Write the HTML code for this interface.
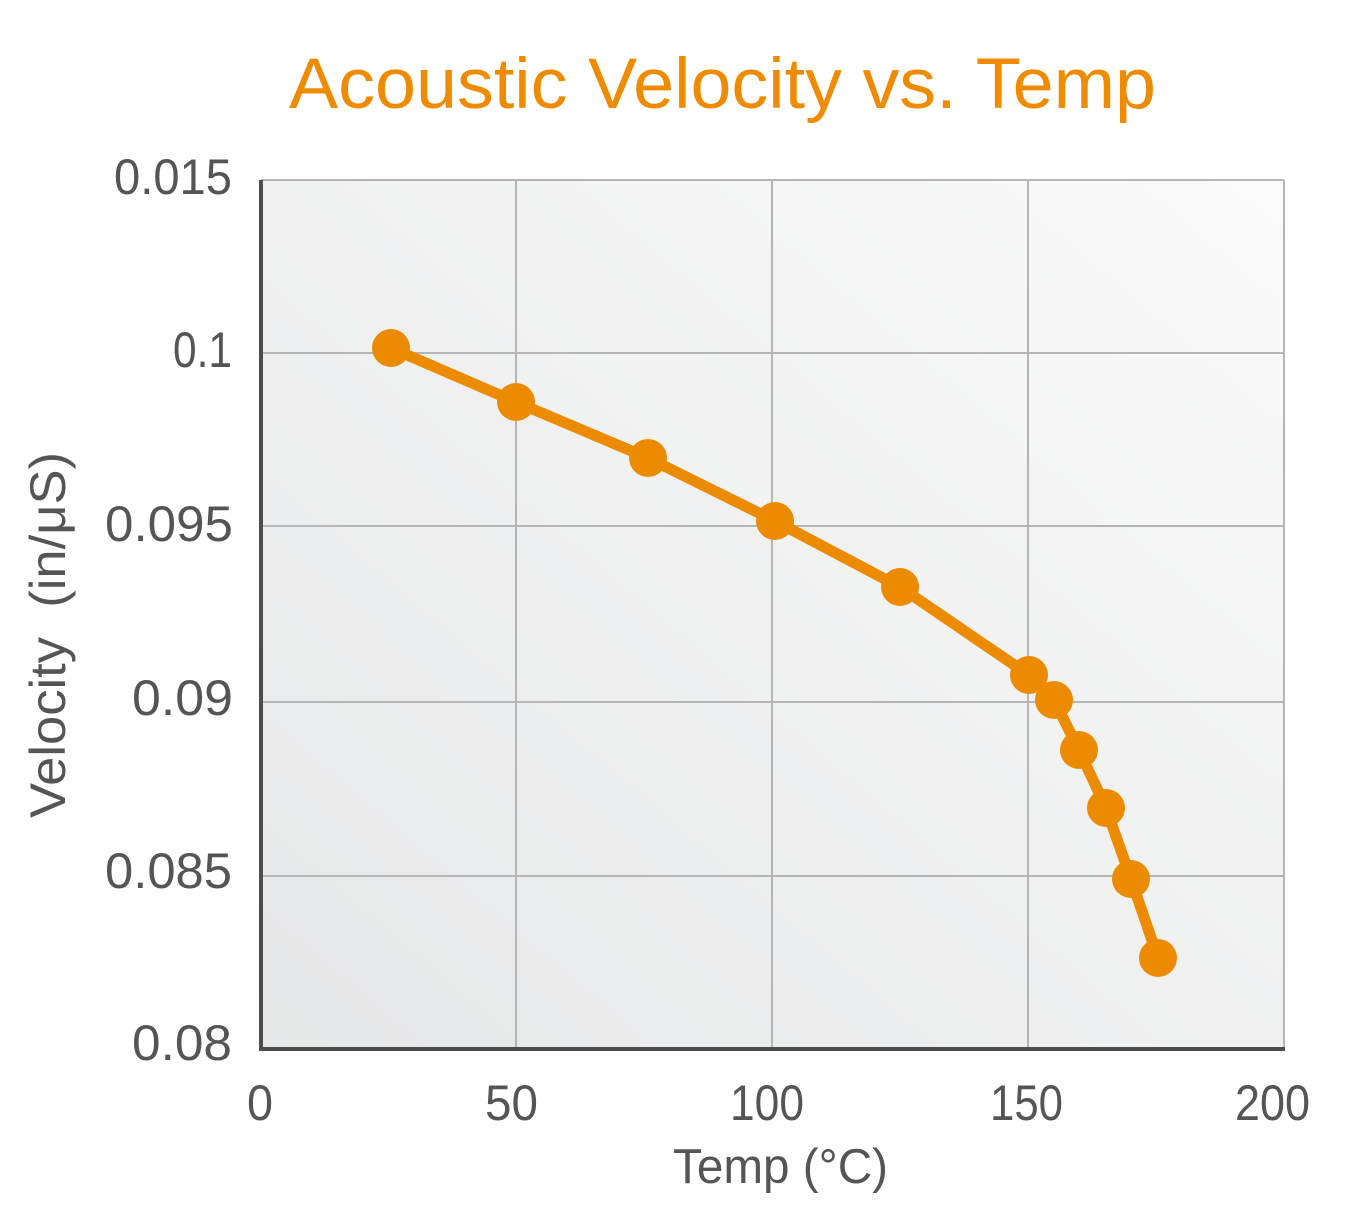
<!DOCTYPE html>
<html>
<head>
<meta charset="utf-8">
<style>
  html,body{margin:0;padding:0;background:#ffffff;}
  svg{display:block;}
  text{font-family:"Liberation Sans",sans-serif;}
</style>
</head>
<body>
<svg width="1348" height="1223" viewBox="0 0 1348 1223" xmlns="http://www.w3.org/2000/svg">
  <defs>
    <linearGradient id="bg" x1="0" y1="1" x2="1" y2="0">
      <stop offset="0" stop-color="#e6e7e8"/>
      <stop offset="1" stop-color="#fafafa"/>
    </linearGradient>
  </defs>
  <rect x="0" y="0" width="1348" height="1223" fill="#ffffff"/>

  <!-- Title -->
  <text x="289" y="108" font-size="71" fill="#ee8b00" textLength="867" lengthAdjust="spacingAndGlyphs">Acoustic Velocity vs. Temp</text>

  <!-- plot background -->
  <rect x="261" y="180" width="1023" height="869" fill="url(#bg)"/>

  <!-- grid -->
  <g stroke="#b5b5b5" stroke-width="2" fill="none">
    <line x1="261" y1="180" x2="1284" y2="180"/>
    <line x1="261" y1="353" x2="1284" y2="353"/>
    <line x1="261" y1="526" x2="1284" y2="526"/>
    <line x1="261" y1="702" x2="1284" y2="702"/>
    <line x1="261" y1="876" x2="1284" y2="876"/>
    <line x1="516" y1="180" x2="516" y2="1049"/>
    <line x1="772" y1="180" x2="772" y2="1049"/>
    <line x1="1028" y1="180" x2="1028" y2="1049"/>
    <line x1="1284" y1="180" x2="1284" y2="1049"/>
  </g>

  <!-- axes -->
  <line x1="261" y1="180" x2="261" y2="1051" stroke="#4d4d4d" stroke-width="4"/>
  <line x1="259" y1="1049" x2="1285" y2="1049" stroke="#4d4d4d" stroke-width="4"/>

  <!-- series -->
  <polyline fill="none" stroke="#ed8b00" stroke-width="11" stroke-linejoin="round"
    points="391,348 516,402 648,458 775,521 900,587 1029,675 1054,700 1079,750 1106,808 1131,879 1158,958"/>
  <g fill="#ed8b00">
    <circle cx="391" cy="348" r="19"/>
    <circle cx="516" cy="402" r="19"/>
    <circle cx="648" cy="458" r="19"/>
    <circle cx="775" cy="521" r="19"/>
    <circle cx="900" cy="587" r="19"/>
    <circle cx="1029" cy="675" r="19"/>
    <circle cx="1054" cy="700" r="19"/>
    <circle cx="1079" cy="750" r="19"/>
    <circle cx="1106" cy="808" r="19"/>
    <circle cx="1131" cy="879" r="19"/>
    <circle cx="1158" cy="958" r="19"/>
  </g>

  <!-- y tick labels -->
  <g fill="#555555" font-size="50">
    <text x="114" y="194" textLength="118" lengthAdjust="spacingAndGlyphs">0.015</text>
    <text x="173" y="367" textLength="59" lengthAdjust="spacingAndGlyphs">0.1</text>
    <text x="105" y="541" textLength="128" lengthAdjust="spacingAndGlyphs">0.095</text>
    <text x="132" y="715" textLength="101" lengthAdjust="spacingAndGlyphs">0.09</text>
    <text x="105" y="888" textLength="127" lengthAdjust="spacingAndGlyphs">0.085</text>
    <text x="132" y="1060" textLength="100" lengthAdjust="spacingAndGlyphs">0.08</text>
  </g>

  <!-- x tick labels -->
  <g fill="#555555" font-size="50">
    <text x="247" y="1120" textLength="26" lengthAdjust="spacingAndGlyphs">0</text>
    <text x="485" y="1120" textLength="53" lengthAdjust="spacingAndGlyphs">50</text>
    <text x="730" y="1120" textLength="74" lengthAdjust="spacingAndGlyphs">100</text>
    <text x="990" y="1120" textLength="73" lengthAdjust="spacingAndGlyphs">150</text>
    <text x="1235" y="1120" textLength="75" lengthAdjust="spacingAndGlyphs">200</text>
  </g>

  <!-- axis titles -->
  <text x="673" y="1183" font-size="49" fill="#555555" textLength="215" lengthAdjust="spacingAndGlyphs">Temp (°C)</text>
  <text transform="translate(65,818) rotate(-90)" x="0" y="0" font-size="50" fill="#555555" textLength="366" lengthAdjust="spacingAndGlyphs" xml:space="preserve">Velocity  (in/μS)</text>
</svg>
</body>
</html>
